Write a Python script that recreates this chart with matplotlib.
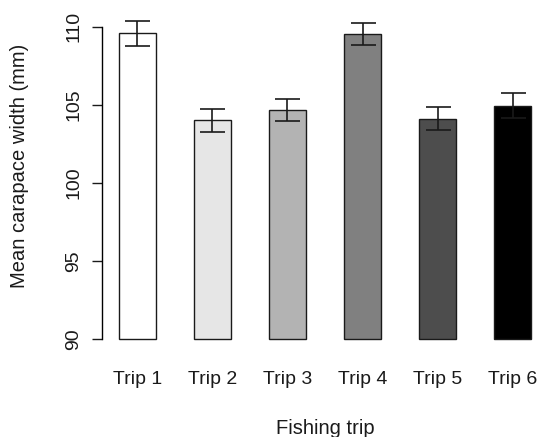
import matplotlib as mpl
mpl.use("Agg")
import matplotlib.pyplot as plt

# data
trips = ["Trip 1", "Trip 2", "Trip 3", "Trip 4", "Trip 5", "Trip 6"]
mean_width = [109.6, 104.0, 104.65, 109.55, 104.1, 104.95]
se_width = [0.8, 0.75, 0.7, 0.7, 0.73, 0.8]
bar_colors = ["#FFFFFF", "#E6E6E6", "#B3B3B3", "#808080", "#4D4D4D", "#000000"]
y_ticks = [90, 95, 100, 105, 110]

mpl.rcParams.update({
    "font.family": ["Liberation Sans", "DejaVu Sans"],
    "font.size": 14,
})

W, H = 539, 437
fig = plt.figure(figsize=(W / 100, H / 100), dpi=100)
# plot region in pixels (R-style, right edge runs past the cropped image)
left, right, top, bottom = 102.2, 547.8, 14.3, 351.4
ax = fig.add_axes([left / W, 1 - bottom / H, (right - left) / W, (bottom - top) / H])

xpos = [1.5 + 2 * i for i in range(len(trips))]
ax.bar(xpos, [m - 90 for m in mean_width], bottom=90, width=1.0,
       color=bar_colors, edgecolor="#1a1a1a", linewidth=1.0, zorder=2)
ax.errorbar(xpos, mean_width, yerr=se_width, fmt="none", ecolor="#1a1a1a",
            elinewidth=1.2, capsize=9, capthick=1.2, zorder=3)

ax.set_xlim(0.56, 12.44)
ax.set_ylim(89.2, 110.8)
ax.set_xticks(xpos)
ax.set_xticklabels(trips)
ax.set_yticks(y_ticks)
ax.set_yticklabels([str(t) for t in y_ticks], rotation=90, va="center")

for s in ("top", "right", "bottom"):
    ax.spines[s].set_visible(False)
ax.spines["left"].set_bounds(90, 110)
ax.spines["left"].set_linewidth(1.0)
ax.tick_params(axis="x", length=0, pad=14, colors="#1a1a1a")
ax.tick_params(axis="y", length=7.2, width=1.0, pad=7, colors="#1a1a1a")

ax.set_xlabel("Fishing trip", color="#1a1a1a", fontsize=14.5)
ax.xaxis.set_label_coords(0.5, -0.2)
ax.set_ylabel("Mean carapace width (mm)", color="#1a1a1a", fontsize=14.5)
ax.yaxis.set_label_coords(-0.165, 0.55)

fig.savefig("out.png", dpi=100)
